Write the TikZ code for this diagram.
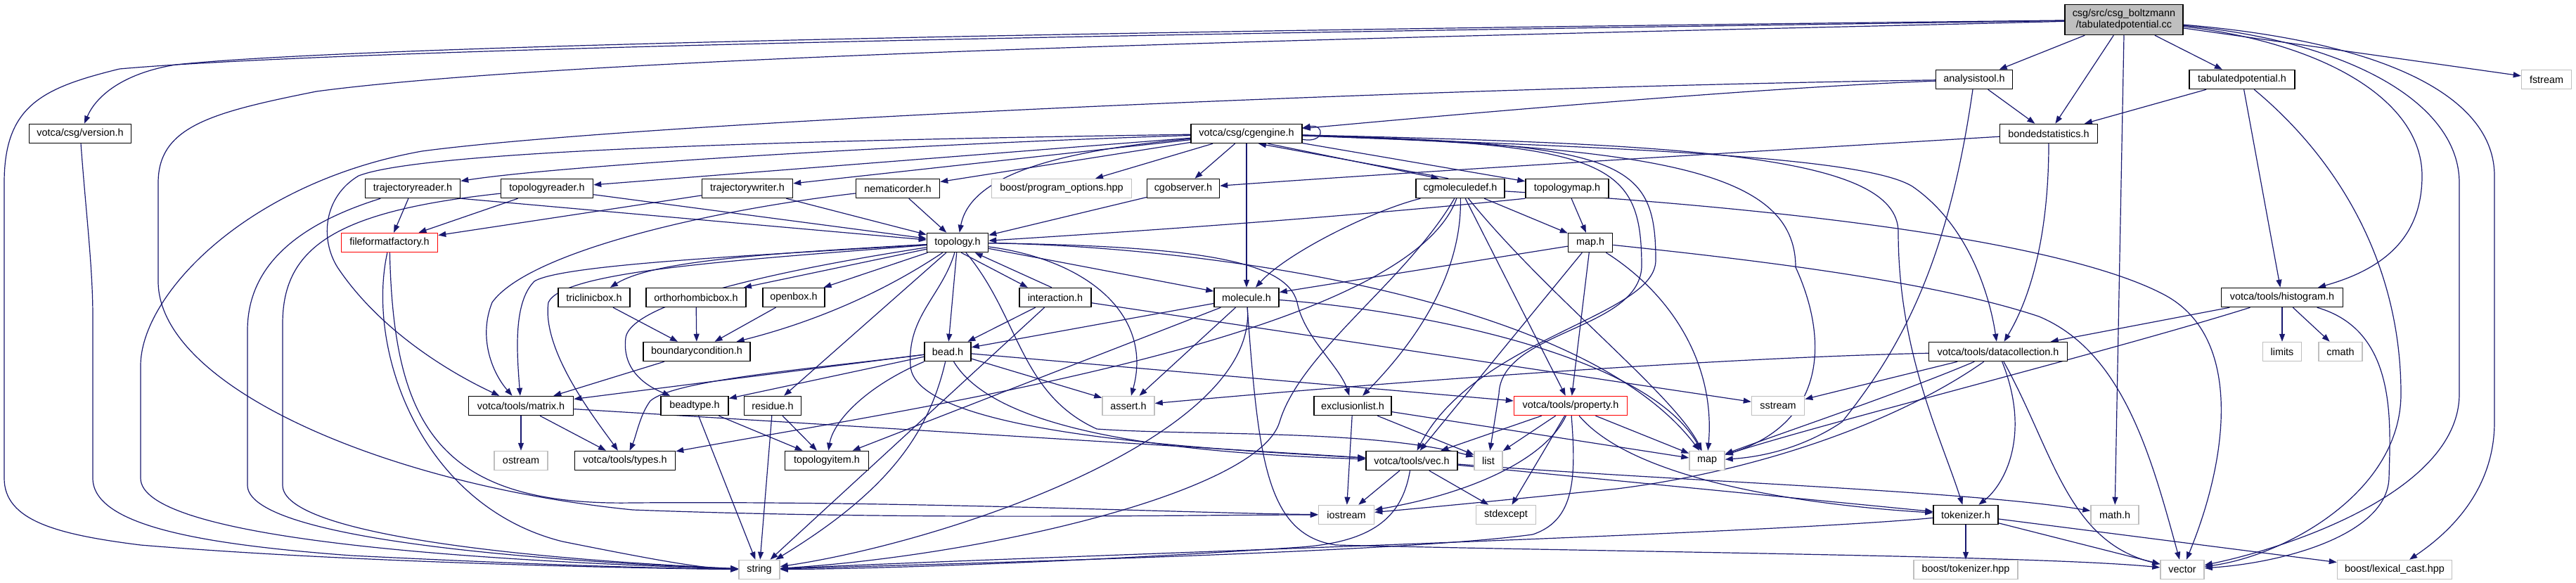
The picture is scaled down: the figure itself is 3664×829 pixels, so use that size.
\documentclass[tikz,border=0pt]{standalone}
\usepackage{fontspec}
\setmainfont{Liberation Sans}
\usetikzlibrary{arrows.meta,backgrounds}
\definecolor{edgecol}{HTML}{191970}
\definecolor{sysgray}{HTML}{BFBFBF}
\newcommand\dxfont{\fontsize{7.2pt}{7.8pt}\selectfont}
\newcommand\edg[2]{\draw[arr] (#1) -- (#2);}
\begin{document}
\begin{tikzpicture}[x=0.5pt,y=-0.5pt,
 box/.style={draw=black,line width=0.75pt,fill=white,inner xsep=2pt,inner ysep=0pt,minimum height=13.5pt,font=\dxfont},
 sys/.style={box,draw=sysgray},
 redbox/.style={box,draw=red},
 rootbox/.style={box,fill=sysgray,minimum height=21.5pt,align=center},
 arr/.style={draw=edgecol,line width=0.6pt,-{Triangle[length=5.5pt,width=4pt]}}]
\useasboundingbox (0,0) rectangle (3664,829);
% ---------- nodes ----------
\node[rootbox,minimum width=84pt] (root) at (3021,28) {csg/src/csg\_boltzmann\\/tabulatedpotential.cc};
\node[box,minimum width=54.5pt] (analysistool) at (2808,113) {analysistool.h};
\node[box,minimum width=75pt] (tabulatedpotential) at (3189,113) {tabulatedpotential.h};
\node[sys,minimum width=35.5pt] (fstream) at (3622,113) {fstream};
\node[box,minimum width=72.5pt] (version) at (114,190) {votca/csg/version.h};
\node[box,minimum width=79pt] (cgengine) at (1773,190) {votca/csg/cgengine.h};
\node[box,minimum width=69.5pt] (bondedstatistics) at (2914,190) {bondedstatistics.h};
\node[box,minimum width=67.5pt] (trajectoryreader) at (587,268) {trajectoryreader.h};
\node[box,minimum width=65.5pt] (topologyreader) at (778,268) {topologyreader.h};
\node[box,minimum width=64.5pt] (trajectorywriter) at (1063,268) {trajectorywriter.h};
\node[box,minimum width=59.5pt] (nematicorder) at (1277,268) {nematicorder.h};
\node[sys,minimum width=99.5pt] (programoptions) at (1510,268) {boost/program\_options.hpp};
\node[box,minimum width=51.5pt] (cgobserver) at (1683,268) {cgobserver.h};
\node[box,minimum width=63pt] (cgmoleculedef) at (2077,268) {cgmoleculedef.h};
\node[box,minimum width=59pt] (topologymap) at (2229,268) {topologymap.h};
\node[redbox,minimum width=68.5pt] (fileformatfactory) at (554,345) {fileformatfactory.h};
\node[box,minimum width=43.5pt] (topology) at (1362,345) {topology.h};
\node[box,minimum width=31.5pt] (maph) at (2262,345) {map.h};
\node[box,minimum width=51pt] (triclinicbox) at (845,423) {triclinicbox.h};
\node[box,minimum width=71pt] (orthorhombicbox) at (990,423) {orthorhombicbox.h};
\node[box,minimum width=44pt] (openbox) at (1129,423) {openbox.h};
\node[box,minimum width=51pt] (interaction) at (1501,423) {interaction.h};
\node[box,minimum width=46pt] (molecule) at (1773,423) {molecule.h};
\node[box,minimum width=86.5pt] (histogram) at (3246,423) {votca/tools/histogram.h};
\node[box,minimum width=76pt] (boundarycondition) at (991,500) {boundarycondition.h};
\node[box,minimum width=33pt] (bead) at (1348,500) {bead.h};
\node[box,minimum width=98.5pt] (datacollection) at (2842,500) {votca/tools/datacollection.h};
\node[sys,minimum width=27.5pt] (limits) at (3246,500) {limits};
\node[sys,minimum width=31pt] (cmath) at (3329,500) {cmath};
\node[box,minimum width=74.5pt] (matrix) at (741,577) {votca/tools/matrix.h};
\node[box,minimum width=48pt] (beadtype) at (988,577) {beadtype.h};
\node[box,minimum width=40.5pt] (residue) at (1099,577) {residue.h};
\node[sys,minimum width=37pt] (assert) at (1605,577) {assert.h};
\node[box,minimum width=55pt] (exclusionlist) at (1924,577) {exclusionlist.h};
\node[redbox,minimum width=80.5pt] (property) at (2234,577) {votca/tools/property.h};
\node[sys,minimum width=37.5pt] (sstream) at (2529,577) {sstream};
\node[sys,minimum width=38pt] (ostream) at (741,655) {ostream};
\node[box,minimum width=71.5pt] (types) at (889,655) {votca/tools/types.h};
\node[box,minimum width=59.5pt] (topologyitem) at (1176,655) {topologyitem.h};
\node[box,minimum width=65pt] (vec) at (2008,655) {votca/tools/vec.h};
\node[sys,minimum width=20pt] (list) at (2117,655) {list};
\node[sys,minimum width=25pt] (map) at (2428,655) {map};
\node[sys,minimum width=39.5pt] (iostream) at (1915,732) {iostream};
\node[sys,minimum width=42.5pt] (stdexcept) at (2142,732) {stdexcept};
\node[box,minimum width=46pt] (tokenizer) at (2796,732) {tokenizer.h};
\node[sys,minimum width=34pt] (math) at (3008,732) {math.h};
\node[sys,minimum width=29pt] (string) at (1080,810) {string};
\node[sys,minimum width=74pt] (boosttok) at (2796,810) {boost/tokenizer.hpp};
\node[sys,minimum width=31pt] (vector) at (3104,810) {vector};
\node[sys,minimum width=81.5pt] (lexical) at (3406,810) {boost/lexical\_cast.hpp};
% ---------- edges ----------
\begin{pgfonlayer}{background}
\fill[white] (0,0) rectangle (3664,829);
% root
\edg{root}{analysistool}
\edg{root}{bondedstatistics}
\edg{root}{tabulatedpotential}
\edg{root}{fstream}
\draw[arr] (root.south) -- (math);
\draw[arr] (root) .. controls (3300,60) and (3445,140) .. (3445,250) .. controls (3445,330) and (3400,380) .. (histogram);
\draw[arr] (root) .. controls (3350,60) and (3498,150) .. (3498,260) -- (3498,560) .. controls (3498,700) and (3250,780) .. (vector);
\draw[arr] (root) .. controls (3400,60) and (3548,140) .. (3548,250) -- (3548,600) .. controls (3548,700) and (3480,760) .. (lexical);
\draw[arr] (root) .. controls (2400,35) and (600,55) .. (250,92) .. controls (170,105) and (135,140) .. (version);
\draw[arr] (root) .. controls (2400,38) and (600,60) .. (170,98) .. controls (60,125) and (6,150) .. (6,260) -- (6,680) .. controls (6,740) and (80,760) .. (200,775) .. controls (500,800) and (900,808) .. (string);
\draw[arr] (root) .. controls (2400,45) and (900,70) .. (450,130) .. controls (300,160) and (225,180) .. (225,260) -- (225,400) .. controls (225,550) and (550,690) .. (900,725) .. controls (1300,740) and (1700,732) .. (iostream);
% version
\draw[arr] (version) .. controls (122,300) and (132,380) .. (132,450) -- (132,680) .. controls (132,750) and (300,775) .. (500,790) .. controls (800,805) and (950,808) .. (string);
% analysistool
\edg{analysistool}{bondedstatistics}
\draw[arr] (analysistool) .. controls (2500,125) and (2100,160) .. (cgengine);
\draw[arr] (analysistool) .. controls (2000,125) and (900,175) .. (600,215) .. controls (350,260) and (200,420) .. (200,520) -- (200,680) .. controls (200,760) and (600,795) .. (string);
\draw[arr] (analysistool) .. controls (2770,380) and (2700,500) .. (2620,600) .. controls (2560,640) and (2500,650) .. (map);
% tabulatedpotential
\edg{tabulatedpotential}{bondedstatistics}
\edg{tabulatedpotential}{histogram}
\draw[arr] (tabulatedpotential) .. controls (3330,230) and (3415,380) .. (3415,560) .. controls (3415,700) and (3250,790) .. (vector);
% bondedstatistics
\draw[arr] (bondedstatistics) .. controls (2500,215) and (2000,245) .. (cgobserver);
\draw[arr] (bondedstatistics) .. controls (2914,330) and (2890,420) .. (datacollection);
% cgengine
\draw[arr] (cgengine) .. controls (1300,205) and (800,235) .. (trajectoryreader);
\edg{cgengine}{topologyreader}
\edg{cgengine}{trajectorywriter}
\edg{cgengine}{nematicorder}
\edg{cgengine}{programoptions}
\edg{cgengine}{cgobserver}
\draw[arr] (cgengine) .. controls (1500,215) and (1380,250) .. (topology);
\edg{cgengine}{molecule}
\draw[arr] (cgengine.-25) -- (cgmoleculedef.155);
\draw[arr] (cgmoleculedef.140) -- (cgengine.-40);
\edg{cgengine}{topologymap}
\draw[arr] ([yshift=3pt]cgengine.south east) .. controls +(16pt,-3pt) and +(16pt,3pt) .. ([yshift=-3pt]cgengine.north east);
\draw[arr] (cgengine) .. controls (2300,210) and (2650,222) .. (2720,265) .. controls (2800,320) and (2830,420) .. (datacollection);
\draw[arr] (cgengine) .. controls (2290,205) and (2335,230) .. (2335,380) .. controls (2330,470) and (2135,470) .. (2132,560) -- (list);
\draw[arr] (cgengine) .. controls (2310,205) and (2355,228) .. (2355,370) .. controls (2355,450) and (2100,480) .. (vec);
\draw[arr] (cgengine) .. controls (2350,210) and (2554,240) .. (2554,380) .. controls (2600,480) and (2600,600) .. (map);
\draw[arr] (cgengine) .. controls (2400,205) and (2700,220) .. (2700,330) .. controls (2700,500) and (2760,620) .. (tokenizer);
\draw[arr] (cgengine) .. controls (1100,200) and (600,215) .. (510,250) .. controls (460,280) and (455,340) .. (480,380) .. controls (540,470) and (640,530) .. (matrix);
% trajectoryreader / topologyreader / trajectorywriter / fileformatfactory
\draw[arr] (trajectoryreader.south east) -- (topology);
\edg{trajectoryreader}{fileformatfactory}
\draw[arr] (trajectoryreader) .. controls (420,320) and (352,380) .. (352,470) -- (352,690) .. controls (352,760) and (700,795) .. (string);
\edg{topologyreader}{topology}
\edg{topologyreader}{fileformatfactory}
\draw[arr] (topologyreader) .. controls (480,300) and (402,350) .. (402,460) -- (402,690) .. controls (402,760) and (750,795) .. (string);
\edg{trajectorywriter}{topology}
\edg{trajectorywriter}{fileformatfactory}
\draw[arr] (fileformatfactory) .. controls (520,500) and (600,720) .. (800,770) .. controls (950,800) and (1000,808) .. (string);
\draw[arr] (fileformatfactory) .. controls (560,600) and (620,720) .. (900,715) .. controls (1300,712) and (1700,730) .. (iostream);
% nematicorder, cgobserver
\edg{nematicorder}{topology}
\draw[arr] (nematicorder) .. controls (1000,300) and (750,360) .. (700,430) .. controls (680,480) and (700,530) .. (matrix);
\edg{cgobserver}{topology}
% topology
\draw[arr] (topology) .. controls (1100,360) and (930,370) .. (triclinicbox);
\edg{topology}{orthorhombicbox}
\edg{topology}{openbox}
\draw[arr] (topology) .. controls (1250,420) and (1150,460) .. (boundarycondition);
\draw[arr] (topology.-70) -- (interaction.160);
\draw[arr] (interaction.110) -- (topology.-30);
\edg{topology}{molecule}
\edg{topology}{bead}
\draw[arr] (topology) .. controls (1200,370) and (900,420) .. (890,480) .. controls (885,520) and (910,545) .. (beadtype);
\edg{topology}{residue}
\draw[arr] (topology) .. controls (1100,362) and (800,375) .. (760,400) .. controls (730,430) and (735,500) .. (matrix);
\draw[arr] (topology) .. controls (1050,370) and (800,385) .. (780,430) .. controls (770,500) and (850,600) .. (types);
\draw[arr] (topology) .. controls (1550,370) and (1640,450) .. (assert);
\draw[arr] (topology) .. controls (1700,350) and (1830,370) .. (1845,430) .. controls (1855,480) and (1905,520) .. (exclusionlist);
\draw[arr] (topology) .. controls (1340,420) and (1290,450) .. (1295,520) .. controls (1300,620) and (1750,640) .. (vec);
\draw[arr] (topology) .. controls (1450,450) and (1450,560) .. (1560,610) .. controls (1700,620) and (1950,610) .. (list);
\draw[arr] (topology) .. controls (1700,350) and (2250,420) .. (map);
% interaction
\edg{interaction}{bead}
\edg{interaction}{string}
\edg{interaction}{sstream}
% molecule
\edg{molecule}{bead}
\edg{molecule}{assert}
\edg{molecule}{topologyitem}
\draw[arr] (molecule) .. controls (1790,620) and (1350,770) .. (string);
\draw[arr] (molecule) .. controls (1790,650) and (1800,760) .. (1900,775) .. controls (2300,785) and (2900,790) .. (vector);
\draw[arr] (molecule) .. controls (2000,440) and (2340,500) .. (map);
% bead
\edg{bead}{matrix}
\edg{bead}{beadtype}
\draw[arr] (bead) .. controls (1230,550) and (1185,600) .. (topologyitem);
\draw[arr] (bead) .. controls (1150,525) and (960,540) .. (925,570) .. controls (910,590) and (905,620) .. (types);
\edg{bead}{assert}
\edg{bead}{property}
\draw[arr] (bead) .. controls (1320,620) and (1260,700) .. (string);
\draw[arr] (bead) .. controls (1420,620) and (1700,645) .. (vec);
% beadtype, residue, boxes
\edg{beadtype}{topologyitem}
\edg{beadtype}{string}
\edg{residue}{topologyitem}
\edg{residue}{string}
\edg{boundarycondition}{matrix}
\edg{triclinicbox}{boundarycondition}
\edg{orthorhombicbox}{boundarycondition}
\edg{openbox}{boundarycondition}
% matrix
\edg{matrix}{ostream}
\edg{matrix}{types}
\edg{matrix}{vec}
% exclusionlist
\edg{exclusionlist}{iostream}
\edg{exclusionlist}{list}
\edg{exclusionlist}{map}
% property
\edg{property}{vec}
\edg{property}{list}
\edg{property}{map}
\draw[arr] (property) .. controls (2200,650) and (2100,700) .. (iostream);
\edg{property}{stdexcept}
\draw[arr] (property) .. controls (2242,680) and (2240,740) .. (2180,760) .. controls (2000,785) and (1400,800) .. (string);
\draw[arr] (property) .. controls (2330,690) and (2600,720) .. (tokenizer);
% vec
\edg{vec}{iostream}
\edg{vec}{stdexcept}
\draw[arr] (vec) .. controls (1995,730) and (1960,770) .. (1850,778) .. controls (1600,795) and (1300,808) .. (string);
\draw[arr] (vec) .. controls (2400,685) and (2800,698) .. (math);
\edg{vec}{tokenizer}
% map.h
\edg{maph}{molecule}
\edg{maph}{vec}
\edg{maph}{property}
\draw[arr] (maph) .. controls (2380,420) and (2440,520) .. (map);
\draw[arr] (maph) .. controls (2500,370) and (2750,400) .. (2900,450) .. controls (3020,500) and (3060,650) .. (vector);
% cgmoleculedef
\draw[arr] (cgmoleculedef) .. controls (1950,300) and (1830,360) .. (molecule);
\edg{cgmoleculedef}{maph}
\edg{cgmoleculedef}{property}
\draw[arr] (cgmoleculedef) .. controls (2080,400) and (2000,500) .. (exclusionlist);
\draw[arr] (cgmoleculedef) .. controls (2200,420) and (2380,560) .. (map);
\draw[arr] (cgmoleculedef) .. controls (2000,480) and (1300,580) .. (types);
\draw[arr] (cgmoleculedef) .. controls (2000,400) and (1850,500) .. (1820,600) .. controls (1790,700) and (1400,790) .. (string);
\draw[arr] (cgmoleculedef) .. controls (2600,300) and (2950,350) .. (3080,420) .. controls (3190,480) and (3170,650) .. (vector);
% topologymap
\edg{topologymap}{maph}
\draw[arr] (topologymap.south west) .. controls (1900,310) and (1600,330) .. (topology);
% datacollection
\draw[arr] (datacollection) .. controls (2400,510) and (1900,550) .. (assert);
\edg{datacollection}{sstream}
\draw[arr] (datacollection) .. controls (2700,560) and (2550,610) .. (map);
\draw[arr] (datacollection) .. controls (2700,600) and (2500,670) .. (2300,695) .. controls (2150,710) and (2050,720) .. (iostream);
\draw[arr] (datacollection) .. controls (2890,620) and (2850,690) .. (tokenizer);
\draw[arr] (datacollection) .. controls (2920,640) and (2940,770) .. (vector);
% histogram
\edg{histogram}{datacollection}
\edg{histogram}{limits}
\edg{histogram}{cmath}
\draw[arr] (histogram) .. controls (3410,470) and (3400,600) .. (3398,680) .. controls (3395,760) and (3250,800) .. (vector);
\draw[arr] (histogram) .. controls (3000,500) and (2600,600) .. (map);
% tokenizer
\edg{tokenizer}{boosttok}
\edg{tokenizer}{vector}
\edg{tokenizer}{lexical}
\draw[arr] (tokenizer) .. controls (2500,760) and (1500,790) .. (string);
\end{pgfonlayer}
\end{tikzpicture}
\end{document}
